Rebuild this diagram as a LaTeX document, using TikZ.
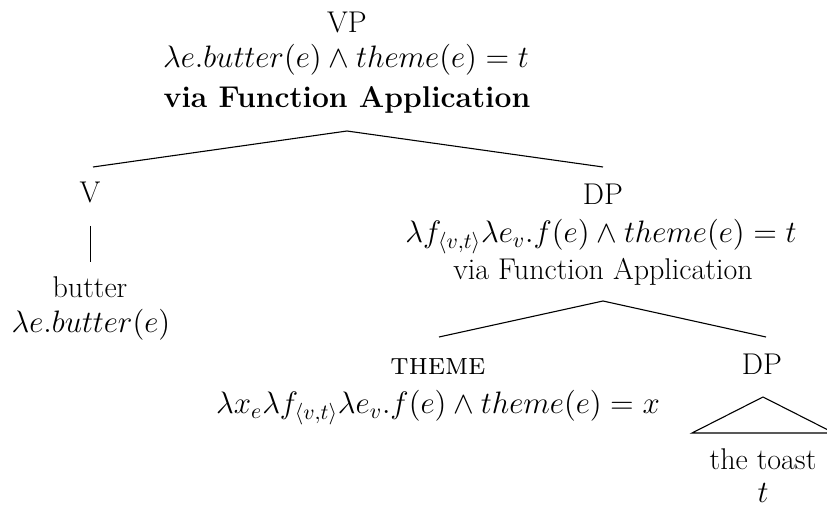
\RequirePackage{fix-cm}
\documentclass[tikz,border=0pt]{standalone}
\usepackage{fontspec}
\usetikzlibrary{calc}
\begin{document}
\begin{tikzpicture}[x=0.5pt,y=-0.5pt,
  every node/.style={inner sep=0pt, anchor=base, font=\fontsize{15}{18}\selectfont},
  sem/.style={font=\fontsize{15.5}{18}\selectfont},
  branch/.style={draw=black, line width=0.55pt},
  smallcap/.style={font=\fontsize{15.5}{18}\selectfont\scshape}]
\useasboundingbox (0,0) rectangle (827,508);
% VP
\node (vp) at (347,33) {VP};
\node[sem] (vpsem) at (346,68) {$\lambda e.butter(e) \wedge theme(e) = t$};
\node (vpvia) at (347,108) {\textbf{via Function Application}};
% V
\node (v) at (90,203) {V};
\node (butter) at (90,298) {butter};
\node[sem] (buttersem) at (91,333) {$\lambda e.butter(e)$};
% DP
\node (dp) at (603,205) {DP};
\node[sem] (dpsem) at (601,243) {$\lambda f_{\langle v,t\rangle}\lambda e_v.f(e)\wedge theme(e)=t$};
\node (dpvia) at (603,280) {via Function Application};
% theme
\node[smallcap] (theme) at (438,375) {theme};
\node[sem] (themesem) at (438,414) {$\lambda x_e\lambda f_{\langle v,t\rangle}\lambda e_v.f(e)\wedge theme(e)=x$};
% lower DP
\node (dpb) at (762,375) {DP};
\node (toast) at (763,470) {the toast};
\node[sem] (toastsem) at (763,503) {$t$};
% branches
\draw[branch] ($(vpvia.base)+(0,23)$) -- ($(v.base)+(3,-36)$);
\draw[branch] ($(vpvia.base)+(0,23)$) -- ($(dp.base)+(0,-38)$);
\draw[branch] ($(v.base)+(0.5,23)$) -- ($(butter.base)+(0.5,-36)$);
\draw[branch] ($(dpvia.base)+(0,21)$) -- ($(theme.base)+(1,-38)$);
\draw[branch] ($(dpvia.base)+(0,21)$) -- ($(dpb.base)+(4,-38)$);
\draw[branch] ($(dpb.base)+(1,22)$) -- ($(toast.base)+(-71,-37)$) -- ($(toast.base)+(71,-37)$) -- cycle;
\end{tikzpicture}
\end{document}
